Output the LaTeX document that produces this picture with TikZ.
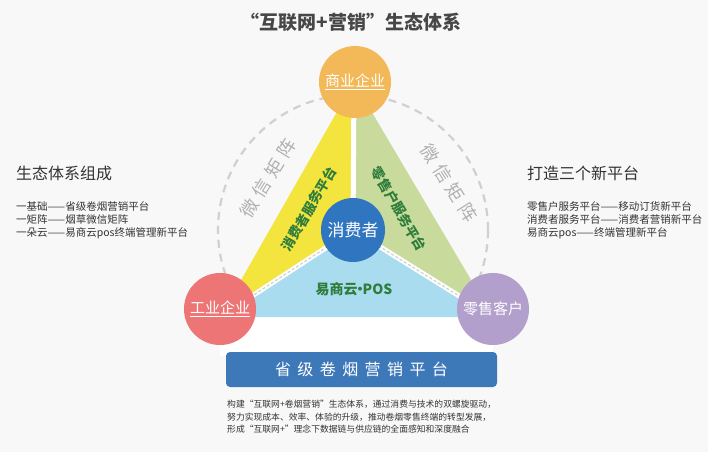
\documentclass[tikz,border=0pt]{standalone}
\usepackage{fontspec}
\setmainfont{Noto Sans CJK SC}
\definecolor{bgGray}{RGB}{248,248,248}
\definecolor{ringGray}{RGB}{208,208,208}
\definecolor{secYellow}{RGB}{243,228,62}
\definecolor{secGreen}{RGB}{200,219,156}
\definecolor{secBlue}{RGB}{169,220,239}
\definecolor{secText}{RGB}{47,125,60}
\definecolor{bizOrange}{RGB}{243,184,87}
\definecolor{indRed}{RGB}{238,117,118}
\definecolor{retLilac}{RGB}{179,159,203}
\definecolor{consBlue}{RGB}{47,117,191}
\definecolor{barBlue}{RGB}{61,120,185}
\definecolor{wxGray}{RGB}{176,176,176}
\definecolor{darkText}{RGB}{51,51,51}
\begin{document}
\begin{tikzpicture}[x=1pt,y=-1pt,
  firm/.style={circle, minimum size=72pt, inner sep=0pt, text=white, font=\fontsize{15}{15}\selectfont},
  sectorlabel/.style={text=secText, font=\bfseries\fontsize{13.5}{13.5}\selectfont},
  wxlabel/.style={text=wxGray, font=\fontsize{18}{18}\selectfont\addfontfeature{LetterSpace=30}},
  divider/.style={white, line width=5pt},
  dashline/.style={ringGray, line width=1.2pt, dash pattern=on 3pt off 2pt},
  sidenote/.style={anchor=west, inner sep=0pt, align=left, text=darkText}]
\useasboundingbox[fill=bgGray] (0,0) rectangle (708,452);

% dashed ring behind the triangle
\draw[ringGray, line width=2.2pt, dash pattern=on 8pt off 6pt] (353,230) circle (135pt);
\fill[white] (220,317) rectangle (493,356);

% triangle
\coordinate(Apex) at (354,82);
\coordinate(BL) at (220,317);
\coordinate(BR) at (493,317);
\coordinate(C) at (353,230);
\fill[secYellow] (Apex) -- (BL) -- (C) -- cycle;
\fill[secGreen] (Apex) -- (BR) -- (C) -- cycle;
\fill[secBlue] (BL) -- (BR) -- (C) -- cycle;
\draw[divider] (C) -- (Apex);
\draw[divider] (C) -- (BL);
\draw[divider] (C) -- (BR);
\draw[dashline] (C) -- (BL);
\draw[dashline] (C) -- (BR);

\node(SecL)[sectorlabel, rotate=59.5] at (309,209){消费者服务平台};
\node(SecR)[sectorlabel, rotate=-59.5] at (399,209){零售户服务平台};
\node(SecB)[sectorlabel, font=\bfseries\fontsize{14}{14}\selectfont] at (354,289){易商云{\kern-0.32em·\kern-0.32em}POS};
\node(WxL)[wxlabel, rotate=58] at (268,178){微信矩阵};
\node(WxR)[wxlabel, rotate=-58] at (449,183){微信矩阵};

% circles
\node(Biz)[firm, fill=bizOrange] at (355,82){\underline{商业企业}};
\node(Ind)[firm, fill=indRed] at (220,309){\underline{工业企业}};
\node(Ret)[firm, fill=retLilac] at (493,309){零售客户};
\node(Cons)[firm, fill=consBlue, minimum size=64pt, font=\fontsize{17}{17}\selectfont] at (353,230){消费者};

% platform bar and texts
\node(Bar)[fill=barBlue, rounded corners=4pt, minimum width=271pt, minimum height=35pt, text=white,
  font=\fontsize{16}{16}\selectfont\addfontfeature{LetterSpace=40}] at (361.5,369.5){省级卷烟营销平台};
\node(Title)[text=darkText!90, font=\bfseries\fontsize{19}{19}\selectfont] at (351,22){“互联网+营销”生态体系};

\node(LeftHead)[sidenote, font=\fontsize{16}{16}\selectfont] at (16,173){生态体系组成};
\node(LeftList)[sidenote, font=\fontsize{10.5}{13}\selectfont] at (16,220){一基础——省级卷烟营销平台\\一矩阵——烟草微信矩阵\\一朵云——易商云pos终端管理新平台};
\node(RightHead)[sidenote, font=\fontsize{16}{16}\selectfont] at (527,173){打造三个新平台};
\node(RightList)[sidenote, font=\fontsize{10.5}{13}\selectfont] at (527,220){零售户服务平台——移动订货新平台\\消费者服务平台——消费者营销新平台\\易商云pos——终端管理新平台};
\node(Desc)[sidenote, font=\fontsize{8.8}{12.5}\selectfont] at (227,417){构建“互联网+卷烟营销”生态体系，通过消费与技术的双螺旋驱动，\\努力实现成本、效率、体验的升级，推动卷烟零售终端的转型发展，\\形成“互联网+”理念下数据链与供应链的全面感知和深度融合};
\end{tikzpicture}
\end{document}
